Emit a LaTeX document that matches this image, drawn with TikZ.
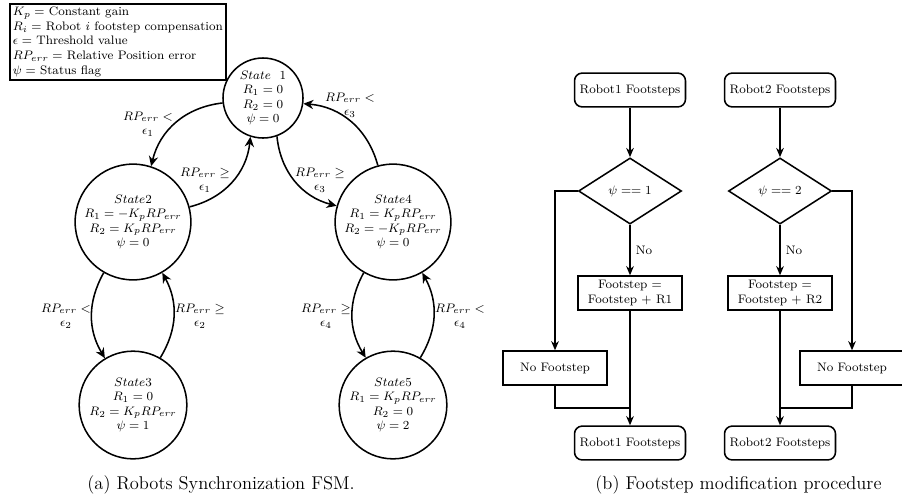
\documentclass[tikz,border=0pt]{standalone}
\usetikzlibrary{shapes.geometric,arrows.meta,positioning}
\begin{document}
\begin{tikzpicture}[
  x=0.65pt, y=-0.65pt,
  state/.style={circle, draw, line width=1pt, align=center, inner sep=1pt, font=\footnotesize},
  trans/.style={line width=1pt, -{Stealth[length=6.5pt,width=6pt]}},
  translabel/.style={align=center, font=\footnotesize, inner sep=0pt},
  terminal/.style={draw, line width=1pt, rounded corners=5pt, minimum width=67.6pt, minimum height=22pt, font=\footnotesize},
  decision/.style={diamond, draw, line width=1pt, minimum width=67pt, minimum height=43pt, inner sep=0pt, font=\footnotesize},
  process/.style={draw, line width=1pt, minimum width=67.6pt, minimum height=22pt, align=center, font=\footnotesize, inner sep=1pt},
  flow/.style={line width=1pt, -{Stealth[length=6pt,width=5pt]}}
]
  \useasboundingbox (0,0) rectangle (902,502);

  % Legend of the symbols
  \node[draw, very thick, anchor=north west, align=left, font=\footnotesize, inner sep=2pt] (legend) at (9,3)
    {$K_p =$ Constant gain\\
     $R_i =$ Robot $i$ footstep compensation\\
     $\epsilon =$ Threshold value\\
     $RP_{err} =$ Relative Position error\\
     $\psi =$ Status flag};

  % States of the FSM
  \node[state, minimum size=52pt] (s1) at (263,98) {$State\ \ 1$\\ $R_1 = 0$\\ $R_2 = 0$\\ $\psi = 0$};
  \node[state, minimum size=74pt] (s2) at (133,222) {$State2$\\ $R_1 = -K_pRP_{err}$\\ $R_2 = K_pRP_{err}$\\ $\psi = 0$};
  \node[state, minimum size=70pt] (s3) at (133,405) {$State3$\\ $R_1 = 0$\\ $R_2 = K_pRP_{err}$\\ $\psi = 1$};
  \node[state, minimum size=74pt] (s4) at (393,222) {$State4$\\ $R_1 = K_pRP_{err}$\\ $R_2 = -K_pRP_{err}$\\ $\psi = 0$};
  \node[state, minimum size=70pt] (s5) at (393,405) {$State5$\\ $R_1 = K_pRP_{err}$\\ $R_2 = 0$\\ $\psi = 2$};

  % Transitions
  \draw[trans] (s1.187) to[bend right=35] (s2.72);
  \draw[trans] (s2.15) to[bend right=35] (s1.252);
  \draw[trans] (s1.290) to[bend right=35] (s4.164);
  \draw[trans] (s4.105) to[bend right=35] (s1.352);
  \draw[trans] (s2.240) to[bend right=30] (s3.121);
  \draw[trans] (s3.60) to[bend right=30] (s2.300);
  \draw[trans] (s4.240) to[bend right=30] (s5.120);
  \draw[trans] (s5.60) to[bend right=30] (s4.300);

  % Transition conditions
  \node[translabel] (c12) at (148,124) {$RP_{err} <$\\ $\epsilon_1$};
  \node[translabel] (c21) at (205,180) {$RP_{err} \geq$\\ $\epsilon_1$};
  \node[translabel] (c14) at (320,180) {$RP_{err} \geq$\\ $\epsilon_3$};
  \node[translabel] (c41) at (350,105) {$RP_{err} <$\\ $\epsilon_3$};
  \node[translabel] (c23) at (66,316) {$RP_{err} <$\\ $\epsilon_2$};
  \node[translabel] (c32) at (200,316) {$RP_{err} \geq$\\ $\epsilon_2$};
  \node[translabel] (c45) at (326,316) {$RP_{err} \geq$\\ $\epsilon_4$};
  \node[translabel] (c54) at (460,316) {$RP_{err} <$\\ $\epsilon_4$};

  % Footstep modification flowchart
  \node[terminal] (r1in) at (630,90) {Robot1 Footsteps};
  \node[terminal] (r2in) at (780,90) {Robot2 Footsteps};
  \node[decision] (d1) at (630,191) {$\psi == 1$};
  \node[decision] (d2) at (780,191) {$\psi == 2$};
  \node[process] (p1) at (630,293) {Footstep =\\ Footstep + R1};
  \node[process] (p2) at (780,293) {Footstep =\\ Footstep + R2};
  \node[process] (n1) at (555,368) {No Footstep};
  \node[process] (n2) at (852,368) {No Footstep};
  \node[terminal] (r1out) at (630,443) {Robot1 Footsteps};
  \node[terminal] (r2out) at (780,443) {Robot2 Footsteps};
  \coordinate (j1) at (630,408);
  \coordinate (j2) at (780,408);

  \draw[flow] (r1in) -- (d1);
  \draw[flow] (r2in) -- (d2);
  \draw[flow] (d1) -- node[right, font=\footnotesize] {No} (p1);
  \draw[flow] (d2) -- node[right, font=\footnotesize] {No} (p2);
  \draw[flow] (d1.west) -| (n1);
  \draw[flow] (d2.east) -| (n2);
  \draw[flow] (p1) -- (r1out);
  \draw[flow] (p2) -- (r2out);
  \draw[line width=1pt] (n1.south) |- (j1);
  \draw[line width=1pt] (n2.south) |- (j2);

  % Captions
  \node[font=\large, anchor=west] (capa) at (82,485) {(a) Robots Synchronization FSM.};
  \node[font=\large, anchor=west] (capb) at (590,485) {(b) Footstep modification procedure};
\end{tikzpicture}
\end{document}
